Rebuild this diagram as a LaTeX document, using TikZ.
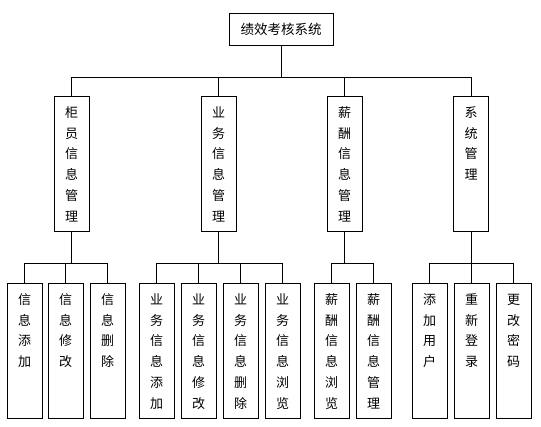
\documentclass[tikz,border=0pt]{standalone}
\usepackage{fontspec}
\newfontfamily\cjk{Noto Sans CJK SC}
\newcommand\vt[1]{\parbox[c][135pt][t]{35pt}{\centering\fontsize{13}{20.7}\selectfont\rule{0pt}{21.5pt}#1}}
\begin{document}
\begin{tikzpicture}[x=1pt,y=1pt,
  box/.style={draw, line width=0.8pt, inner sep=0pt, font=\cjk},
  vbox/.style={box, minimum width=35pt, minimum height=135pt},
  conn/.style={line width=0.8pt}]
\useasboundingbox (0,0) rectangle (541,-426);
\fill[white] (0,0) rectangle (541,-426);
\coordinate (bus1) at (0,-77);
\coordinate (bus2) at (0,-263);
% root
\node[box, minimum width=104pt, minimum height=32pt] (top) at (281,-29) {\fontsize{13.5}{16}\selectfont 绩效考核系统};
% level 2
\node[vbox] (L1) at (71.5,-163.5) {\vt{柜\\员\\信\\息\\管\\理}};
\node[vbox] (L2) at (218.5,-163.5) {\vt{业\\务\\信\\息\\管\\理}};
\node[vbox] (L3) at (344.5,-163.5) {\vt{薪\\酬\\信\\息\\管\\理}};
\node[vbox] (L4) at (471,-163.5) {\vt{系\\统\\管\\理}};
% level 3
\node[vbox] (B11) at (24.5,-350.5) {\vt{信\\息\\添\\加}};
\node[vbox] (B12) at (65.5,-350.5) {\vt{信\\息\\修\\改}};
\node[vbox] (B13) at (107.5,-350.5) {\vt{信\\息\\删\\除}};
\node[vbox] (B21) at (156.5,-350.5) {\vt{业\\务\\信\\息\\添\\加}};
\node[vbox] (B22) at (198.5,-350.5) {\vt{业\\务\\信\\息\\修\\改}};
\node[vbox] (B23) at (240.5,-350.5) {\vt{业\\务\\信\\息\\删\\除}};
\node[vbox] (B24) at (282.5,-350.5) {\vt{业\\务\\信\\息\\浏\\览}};
\node[vbox] (B31) at (331.5,-350.5) {\vt{薪\\酬\\信\\息\\浏\\览}};
\node[vbox] (B32) at (373.5,-350.5) {\vt{薪\\酬\\信\\息\\管\\理}};
\node[vbox] (B41) at (429.5,-350.5) {\vt{添\\加\\用\\户}};
\node[vbox] (B42) at (471.5,-350.5) {\vt{重\\新\\登\\录}};
\node[vbox] (B43) at (513.5,-350.5) {\vt{更\\改\\密\\码}};
% connectors level 1-2
\draw[conn] (top.south) -- (top.south |- bus1);
\draw[conn] (L1.north) -- (L1.north |- bus1) -- (L4.north |- bus1) -- (L4.north);
\draw[conn] (L2.north) -- (L2.north |- bus1);
\draw[conn] (L3.north) -- (L3.north |- bus1);
% group 1
\draw[conn] (L1.south) -- (L1.south |- bus2);
\draw[conn] (B11.north) -- (B11.north |- bus2) -- (B13.north |- bus2) -- (B13.north);
\draw[conn] (B12.north) -- (B12.north |- bus2);
% group 2
\draw[conn] (L2.south) -- (L2.south |- bus2);
\draw[conn] (B21.north) -- (B21.north |- bus2) -- (B24.north |- bus2) -- (B24.north);
\draw[conn] (B22.north) -- (B22.north |- bus2);
\draw[conn] (B23.north) -- (B23.north |- bus2);
% group 3
\draw[conn] (L3.south) -- (L3.south |- bus2);
\draw[conn] (B31.north) -- (B31.north |- bus2) -- (B32.north |- bus2) -- (B32.north);
% group 4
\draw[conn] (L4.south) -- (L4.south |- bus2);
\draw[conn] (B41.north) -- (B41.north |- bus2) -- (B43.north |- bus2) -- (B43.north);
\draw[conn] (B42.north) -- (B42.north |- bus2);
\end{tikzpicture}
\end{document}
